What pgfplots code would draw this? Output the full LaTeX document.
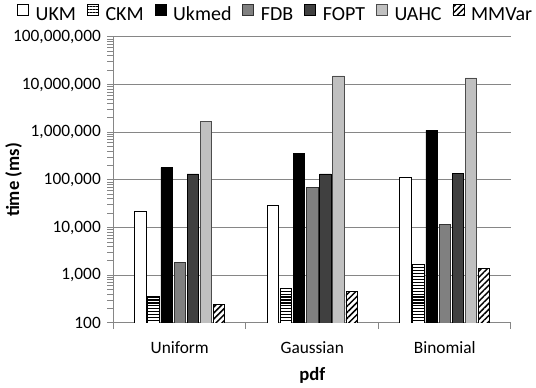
\documentclass[border=0pt]{standalone}
\usepackage{pgfplots}
\pgfplotsset{compat=1.18}
\usepackage{fontspec}
\setmainfont{Carlito}
\usetikzlibrary{patterns.meta}
\definecolor{axisgray}{HTML}{868686}
\definecolor{fdb}{HTML}{808080}
\definecolor{fopt}{HTML}{404040}
\definecolor{uahc}{HTML}{C0C0C0}
\pgfplotsset{
  myleg/.style={legend image code/.code={\draw[##1,line width=0.6pt] (0pt,-0.2pt) rectangle (8.25pt,8.05pt);}},
}
\begin{document}
\begin{tikzpicture}
\begin{axis}[
  name=ax, at={(0pt,0pt)}, anchor=south west,
  scale only axis, width=298.125pt, height=214.5pt,
  ymode=log, ymin=100, ymax=1e8, log origin=infty,
  xmin=-0.5, xmax=2.5,
  ybar=1.34pt, bar width=8.5pt,
  axis lines*=left,
  axis line style={draw=axisgray, line width=0.75pt},
  ymajorgrids, grid style={draw=axisgray, line width=0.75pt},
  ytick={100,1000,10000,100000,1000000,10000000,100000000},
  yticklabels={100,{1,000},{10,000},{100,000},{1,000,000},{10,000,000},{100,000,000}},
  xtick={0,1,2}, xticklabels={Uniform,Gaussian,Binomial},
  minor xtick={-0.5,0.5,1.5,2.5},
  major tick length=4.5pt, minor tick length=4.5pt,
  xtick align=outside, ytick align=outside,
  major x tick style={draw=none},
  minor x tick style={draw=axisgray, line width=0.75pt},
  y tick style={draw=axisgray, line width=0.75pt},
  /pgf/number format/assume math mode=true,
  ticklabel style={font=\fontsize{13}{15}\selectfont},
  yticklabel style={xshift=-1.5pt},
  xticklabel style={yshift=-6pt},
  xlabel={pdf}, ylabel={time (ms)},
  xlabel style={at={(axis description cs:0.5,-0.1836)}, anchor=center, font=\fontsize{14}{16}\selectfont\bfseries},
  ylabel style={at={(axis description cs:-0.251,0.5)}, anchor=center, font=\fontsize{14}{16}\selectfont\bfseries},
  legend columns=7,
  legend style={at={(axis description cs:-0.2428,1.0787)}, anchor=west, draw=none, fill=none,
    font=\fontsize{15}{18}\selectfont, inner sep=0pt,
    /tikz/every odd column/.append style={column sep=3pt},
    /tikz/every even column/.append style={column sep=6.25pt}},
]
\addplot[draw=black, fill=white, line width=0.6pt, myleg] coordinates {(0,21600) (1,29400) (2,114000)};
\addplot[draw=black, fill=white, line width=0.6pt, postaction={pattern={Lines[angle=0,distance=2.2pt,line width=0.9pt]}}, myleg] coordinates {(0,368) (1,542) (2,1700)};
\addplot[draw=black, fill=black, line width=0.6pt, myleg] coordinates {(0,181000) (1,368000) (2,1100000)};
\addplot[draw=black!80, fill=fdb, line width=0.6pt, myleg] coordinates {(0,1840) (1,68900) (2,11750)};
\addplot[draw=black, fill=fopt, line width=0.6pt, myleg] coordinates {(0,134000) (1,134000) (2,138000)};
\addplot[draw=black!70, fill=uahc, line width=0.6pt, myleg] coordinates {(0,1670000) (1,15200000) (2,13800000)};
\addplot[draw=black, fill=white, line width=0.6pt, postaction={pattern={Lines[angle=45,distance=3.2pt,line width=1.1pt]}}, myleg] coordinates {(0,247) (1,469) (2,1400)};
\legend{UKM,CKM,Ukmed,FDB,FOPT,UAHC,MMVar}
\end{axis}
\path (-85.125pt,-45.75pt) rectangle (316.875pt,242.25pt);
\end{tikzpicture}
\end{document}
